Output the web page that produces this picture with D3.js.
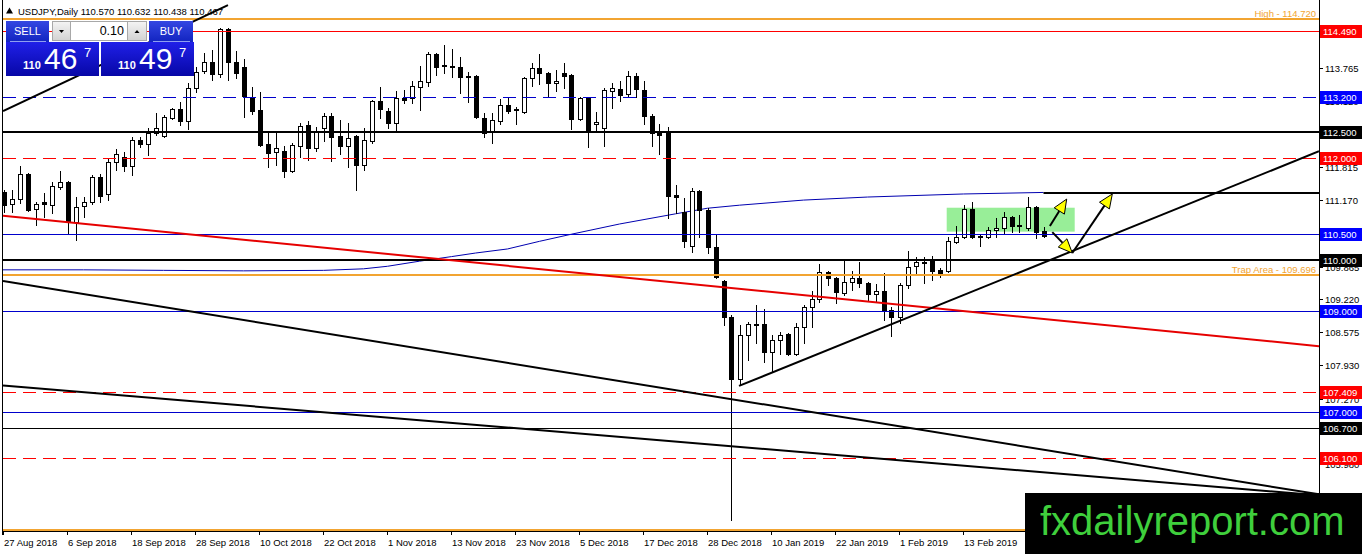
<!DOCTYPE html>
<html>
<head>
<meta charset="utf-8">
<script src="https://cdn.jsdelivr.net/npm/d3@7"></script>
<style>
  html, body { margin: 0; padding: 0; background: #fff; overflow: hidden; }
  svg { display: block; font-family: "Liberation Sans", Arial, sans-serif; }
</style>
</head>
<body>
<svg id="chart" width="1362" height="554"></svg>
<script>
// daily bars, [open, high, low, close]
const candles = [
  [111.33, 111.37, 110.93, 111.07], [111.09, 111.37, 110.93, 111.19], [111.19, 111.84, 111.11, 111.68],
  [111.68, 111.70, 110.95, 110.97], [110.99, 111.13, 110.68, 111.09], [111.13, 111.31, 110.84, 111.09],
  [111.07, 111.52, 110.91, 111.45], [111.43, 111.74, 111.39, 111.52], [111.52, 111.54, 110.52, 110.74],
  [110.74, 111.23, 110.38, 111.03], [111.05, 111.23, 110.84, 111.13], [111.13, 111.66, 111.09, 111.62],
  [111.62, 111.68, 111.13, 111.25], [111.29, 112.00, 111.17, 111.92], [111.92, 112.17, 111.76, 112.07],
  [112.01, 112.11, 111.74, 111.84], [111.84, 112.41, 111.66, 112.35], [112.35, 112.41, 112.21, 112.27],
  [112.27, 112.58, 112.05, 112.49], [112.49, 112.88, 112.45, 112.58], [112.43, 112.84, 112.41, 112.80],
  [112.78, 112.98, 112.76, 112.96], [112.96, 113.10, 112.64, 112.72], [112.72, 113.47, 112.57, 113.37],
  [113.37, 113.78, 113.29, 113.69], [113.70, 114.06, 113.67, 113.88], [113.88, 114.12, 113.53, 113.65],
  [113.65, 114.55, 113.59, 114.53], [114.53, 114.55, 113.53, 113.88], [113.88, 114.10, 113.57, 113.67],
  [113.78, 113.94, 112.80, 113.21], [113.19, 113.39, 112.86, 112.92], [112.94, 113.29, 112.23, 112.25],
  [112.27, 112.51, 111.82, 112.09], [112.11, 112.49, 111.86, 112.19], [112.13, 112.23, 111.62, 111.74],
  [111.74, 112.29, 111.72, 112.25], [112.23, 112.68, 112.01, 112.62], [112.64, 112.72, 111.96, 112.19],
  [112.19, 112.60, 112.13, 112.53], [112.58, 112.88, 112.33, 112.82], [112.82, 112.88, 111.94, 112.41],
  [112.43, 112.74, 112.07, 112.23], [112.23, 112.68, 111.82, 112.39], [112.43, 112.45, 111.37, 111.86],
  [111.86, 112.58, 111.76, 112.35], [112.33, 113.14, 112.29, 113.12], [113.12, 113.39, 112.78, 112.96],
  [112.92, 112.98, 112.58, 112.68], [112.68, 113.31, 112.55, 113.17], [113.17, 113.33, 113.08, 113.13],
  [113.17, 113.51, 113.08, 113.41], [113.39, 113.80, 112.94, 113.51], [113.49, 114.08, 113.41, 114.04],
  [114.04, 114.06, 113.63, 113.78], [113.81, 114.22, 113.67, 113.82], [113.80, 114.14, 113.59, 113.78],
  [113.78, 113.98, 113.27, 113.59], [113.61, 113.69, 113.10, 113.59], [113.61, 113.63, 112.78, 112.80],
  [112.78, 112.88, 112.41, 112.49], [112.51, 112.88, 112.29, 112.74], [112.72, 113.15, 112.66, 113.04],
  [113.04, 113.19, 112.88, 112.92], [112.96, 113.00, 112.66, 112.94], [112.90, 113.59, 112.88, 113.57],
  [113.57, 113.86, 113.41, 113.76], [113.76, 114.04, 113.45, 113.67], [113.67, 113.69, 113.19, 113.47],
  [113.47, 113.72, 113.31, 113.51], [113.67, 113.86, 113.37, 113.61], [113.63, 113.65, 112.57, 112.76],
  [112.76, 113.19, 112.74, 113.17], [113.19, 113.19, 112.21, 112.55], [112.66, 112.90, 112.55, 112.70],
  [112.58, 113.37, 112.23, 113.33], [113.31, 113.47, 112.98, 113.37], [113.35, 113.51, 113.12, 113.23],
  [113.25, 113.70, 113.19, 113.61], [113.61, 113.67, 113.19, 113.35], [113.33, 113.51, 112.66, 112.82],
  [112.82, 112.86, 112.23, 112.49], [112.49, 112.66, 112.07, 112.45], [112.49, 112.60, 110.82, 111.25],
  [111.27, 111.46, 110.91, 111.23], [110.93, 111.21, 110.25, 110.36], [110.27, 111.41, 110.15, 111.35],
  [111.35, 111.37, 110.44, 110.97], [110.97, 111.01, 110.13, 110.25], [110.25, 110.48, 109.64, 109.66],
  [109.58, 109.60, 108.71, 108.87], [108.87, 108.91, 104.88, 107.65], [107.65, 108.71, 107.53, 108.52],
  [108.52, 108.77, 108.03, 108.73], [108.73, 109.11, 108.36, 108.71], [108.73, 109.03, 107.99, 108.18],
  [108.18, 108.52, 107.79, 108.42], [108.42, 108.58, 108.14, 108.52], [108.54, 108.56, 108.12, 108.14],
  [108.14, 108.75, 108.12, 108.67], [108.67, 109.11, 108.36, 109.07], [109.07, 109.38, 108.67, 109.22],
  [109.22, 109.91, 109.16, 109.76], [109.76, 109.77, 109.50, 109.64], [109.64, 109.66, 109.15, 109.36],
  [109.34, 109.97, 109.30, 109.56], [109.56, 109.77, 109.40, 109.64], [109.64, 109.95, 109.46, 109.54],
  [109.54, 109.56, 109.20, 109.32], [109.32, 109.52, 109.16, 109.38], [109.38, 109.74, 108.81, 109.01],
  [109.01, 109.07, 108.50, 108.87], [108.87, 109.54, 108.75, 109.50], [109.50, 110.17, 109.44, 109.85],
  [109.87, 110.05, 109.73, 109.95], [109.94, 110.05, 109.54, 109.96], [109.99, 110.07, 109.60, 109.77],
  [109.79, 109.83, 109.66, 109.73], [109.77, 110.44, 109.75, 110.36], [110.34, 110.66, 110.32, 110.44],
  [110.44, 111.07, 110.42, 110.99], [110.99, 111.13, 110.42, 110.44], [110.46, 110.50, 110.27, 110.44],
  [110.44, 110.64, 110.42, 110.58], [110.58, 110.82, 110.44, 110.62], [110.62, 110.93, 110.52, 110.84],
  [110.84, 110.86, 110.54, 110.66], [110.68, 110.88, 110.54, 110.66], [110.62, 111.23, 110.58, 111.03],
  [111.03, 111.05, 110.42, 110.54], [110.570, 110.632, 110.438, 110.467]
];

// trading calendar of the bars
const firstDay = '2018-08-27';
const lastDay = '2019-02-27';
const holidays = ['2018-12-25', '2019-01-01'];

// moving average, [bar index, price]
const maPoints = [
  [-0.5, 109.80], [10, 109.80], [20, 109.79], [30, 109.78], [40, 109.79], [45, 109.82],
  [48, 109.87], [52, 109.97], [56, 110.06], [59, 110.13], [63, 110.21], [67, 110.36],
  [71, 110.50], [77, 110.70], [84, 110.90], [88, 111.01], [92, 111.07], [100, 111.17],
  [108, 111.23], [120, 111.29], [130, 111.32]
];

// horizontal levels
const levels = [
  { price: 114.720, kind: 'orange', note: 'High - 114.720' },
  { price: 114.490, kind: 'red' },
  { price: 113.200, kind: 'blueDash' },
  { price: 112.500, kind: 'black' },
  { price: 112.000, kind: 'redDash' },
  { price: 111.310, kind: 'black', fromBar: 130, noBox: true },
  { price: 110.500, kind: 'blue' },
  { price: 110.000, kind: 'black' },
  { price: 109.696, kind: 'orange', note: 'Trap Area - 109.696' },
  { price: 109.000, kind: 'blue' },
  { price: 107.409, kind: 'redDash' },
  { price: 107.000, kind: 'blue' },
  { price: 106.700, kind: 'blackThin' },
  { price: 106.100, kind: 'redDash' },
  { price: 104.690, kind: 'orangeLow' }
];

// drawn trend lines, [bar index, price] pairs
const trendLines = [
  { kind: 'black', pts: [[-0.06, 112.92], [28.06, 115.00]] },
  { kind: 'black', pts: [[-0.06, 109.58], [164.44, 105.39]] },
  { kind: 'black', pts: [[-0.06, 107.53], [164.44, 105.37]] },
  { kind: 'red', pts: [[-0.06, 110.86], [164.44, 108.30]] },
  { kind: 'black', pts: [[91.94, 107.52], [164.44, 112.13]] }
];

const arrows = [
  { from: [130.8, 110.66], to: [132.9, 111.19] },
  { from: [131.1, 110.54], to: [133.6, 110.13] },
  { from: [133.6, 110.13], to: [138.6, 111.29] }
];

// consolidation box, bars and prices
const rangeBox = { bars: [117.9, 133.9], prices: [111.02, 110.55] };

const priceTicks = [114.425, 113.765, 113.120, 112.475, 111.815, 111.170, 110.525,
  109.865, 109.220, 108.575, 107.930, 107.270, 106.625, 105.980, 105.335];

const header = 'USDJPY,Daily 110.570 110.632 110.438 110.467';
const sellQuote = ['110', '46', '7'];
const buyQuote = ['110', '49', '7'];
const lotSize = '0.10';
const watermark = 'fxdailyreport.com';

// ---------------------------------------------------------------

const svg = d3.select('#chart');
const plot = { left: 3, right: 1319, top: 0, bottom: 531 };

const x = d3.scaleLinear().domain([0, candles.length - 1]).range([3.5, 1043.5]);
const y = d3.scaleLinear().domain([104.69, 115.10]).range([530, 0]);

const parseDay = d3.timeParse('%Y-%m-%d');
const dayKey = d3.timeFormat('%Y-%m-%d');
const dates = d3.timeDays(parseDay(firstDay), d3.timeDay.offset(parseDay(lastDay), 1))
  .filter((d) => d.getDay() !== 0 && d.getDay() !== 6 && !holidays.includes(dayKey(d)));

const styles = {
  orange: { stroke: '#f2a431', width: 2 },
  orangeLow: { stroke: '#f2a431', width: 3 },
  red: { stroke: '#ff0000', width: 1, box: '#ff0000' },
  redDash: { stroke: '#ff0000', width: 1, dash: '13,7', box: '#ff0000' },
  blue: { stroke: '#0000cc', width: 1, box: '#0000ff' },
  blueDash: { stroke: '#0000cc', width: 1, dash: '13,7', box: '#0000ff' },
  black: { stroke: '#000', width: 2, box: '#000' },
  blackThin: { stroke: '#000', width: 1, box: '#000' }
};

const defs = svg.append('defs');
defs.append('clipPath').attr('id', 'plotClip')
  .append('rect')
  .attr('x', plot.left).attr('y', plot.top)
  .attr('width', plot.right - plot.left).attr('height', plot.bottom - plot.top);

function grad(id, c1, c2) {
  const g = defs.append('linearGradient').attr('id', id)
    .attr('x1', 0).attr('y1', 0).attr('x2', 0).attr('y2', 1);
  g.append('stop').attr('offset', '0%').attr('stop-color', c1);
  g.append('stop').attr('offset', '100%').attr('stop-color', c2);
}
grad('btnBlue', '#3447e2', '#1224c0');
grad('bigBlue', '#2020e8', '#0707a6');
grad('btnGrey', '#f4f4f4', '#d2d2d2');

// header
svg.append('path').attr('d', 'M6,13.5 L9.5,7.5 L13,13.5 Z').attr('fill', '#000');
svg.append('text').attr('x', 18).attr('y', 14.5)
  .style('font-size', '9.5px').attr('fill', '#000').text(header);

const chart = svg.append('g').attr('clip-path', 'url(#plotClip)');

// consolidation box behind the bars
chart.append('rect')
  .attr('x', x(rangeBox.bars[0])).attr('y', y(rangeBox.prices[0]))
  .attr('width', x(rangeBox.bars[1]) - x(rangeBox.bars[0]))
  .attr('height', y(rangeBox.prices[1]) - y(rangeBox.prices[0]))
  .attr('fill', '#98ee98');

const crisp = (v, w) => (w % 2 === 1 ? Math.round(v) + 0.5 : Math.round(v));

// moving average
chart.append('path')
  .datum(maPoints)
  .attr('d', d3.line().x((d) => x(d[0])).y((d) => y(d[1])))
  .attr('fill', 'none').attr('stroke', '#0000b0').attr('stroke-width', 1);

// candles
const bars = chart.append('g').selectAll('g').data(candles).join('g');
bars.each(function (d, i) {
  const g = d3.select(this);
  const cx = Math.round(x(i));
  const [o, h, l, c] = d;
  g.append('line')
    .attr('x1', cx + 0.5).attr('x2', cx + 0.5)
    .attr('y1', Math.round(y(h))).attr('y2', Math.round(y(l)) + 1)
    .attr('stroke', '#000').attr('stroke-width', 1);
  const top = Math.round(y(Math.max(o, c)));
  const bot = Math.round(y(Math.min(o, c)));
  if (c >= o) {
    g.append('rect')
      .attr('x', cx - 1.5).attr('y', top + 0.5)
      .attr('width', 4).attr('height', Math.max(bot - top, 0))
      .attr('fill', '#fff').attr('stroke', '#000').attr('stroke-width', 1);
  } else {
    g.append('rect')
      .attr('x', cx - 2).attr('y', top)
      .attr('width', 5).attr('height', Math.max(bot - top, 1) + 1)
      .attr('fill', '#000');
  }
});

// horizontal levels
levels.forEach((lv) => {
  const st = styles[lv.kind];
  const yy = crisp(y(lv.price), st.width);
  chart.append('line')
    .attr('x1', lv.fromBar !== undefined ? x(lv.fromBar) : plot.left).attr('x2', plot.right)
    .attr('y1', yy).attr('y2', yy)
    .attr('stroke', st.stroke).attr('stroke-width', st.width)
    .attr('stroke-dasharray', st.dash || null);
});

// trend lines
trendLines.forEach((t) => {
  chart.append('line')
    .attr('x1', x(t.pts[0][0])).attr('y1', y(t.pts[0][1]))
    .attr('x2', x(t.pts[1][0])).attr('y2', y(t.pts[1][1]))
    .attr('stroke', t.kind === 'red' ? '#e60000' : '#000')
    .attr('stroke-width', 2);
});

// arrows
arrows.forEach((a) => {
  const x1 = x(a.from[0]), y1 = y(a.from[1]), x2 = x(a.to[0]), y2 = y(a.to[1]);
  const ang = Math.atan2(y2 - y1, x2 - x1);
  const len = 14, half = 6;
  const bx = x2 - len * Math.cos(ang), by = y2 - len * Math.sin(ang);
  chart.append('line')
    .attr('x1', x1).attr('y1', y1).attr('x2', bx).attr('y2', by)
    .attr('stroke', '#000').attr('stroke-width', 2);
  const pts = [
    [x2, y2],
    [bx + half * Math.sin(ang), by - half * Math.cos(ang)],
    [bx - half * Math.sin(ang), by + half * Math.cos(ang)]
  ];
  chart.append('polygon')
    .attr('points', pts.map((p) => p.join(',')).join(' '))
    .attr('fill', '#ffff00').attr('stroke', '#000').attr('stroke-width', 1)
    .attr('stroke-linejoin', 'round');
});

// level notes (orange texts)
levels.filter((lv) => lv.note).forEach((lv) => {
  svg.append('text')
    .attr('x', plot.right - 3).attr('y', y(lv.price) - 2.5)
    .attr('text-anchor', 'end')
    .style('font-size', '9.5px')
    .attr('fill', '#f2a431')
    .text(lv.note);
});

// frame
svg.append('line').attr('x1', plot.left - 0.5).attr('x2', plot.left - 0.5)
  .attr('y1', 0).attr('y2', plot.bottom + 4).attr('stroke', '#000');
svg.append('line').attr('x1', plot.right + 0.5).attr('x2', plot.right + 0.5)
  .attr('y1', 0).attr('y2', plot.bottom + 1).attr('stroke', '#000');
svg.append('line').attr('x1', plot.left).attr('x2', plot.right)
  .attr('y1', plot.bottom + 0.5).attr('y2', plot.bottom + 0.5).attr('stroke', '#000');

// price axis
const priceAxis = svg.append('g');
priceTicks.forEach((p) => {
  const yy = Math.round(y(p)) + 0.5;
  priceAxis.append('line').attr('x1', plot.right).attr('x2', plot.right + 4)
    .attr('y1', yy).attr('y2', yy).attr('stroke', '#000');
  priceAxis.append('text').attr('x', plot.right + 6).attr('y', yy + 3.5)
    .style('font-size', '9.5px').attr('fill', '#000').text(p.toFixed(3));
});
levels.filter((lv) => styles[lv.kind].box && !lv.noBox).forEach((lv) => {
  const yy = Math.round(y(lv.price));
  priceAxis.append('rect')
    .attr('x', plot.right + 1).attr('y', yy - 6)
    .attr('width', 42).attr('height', 13)
    .attr('fill', styles[lv.kind].box);
  priceAxis.append('text').attr('x', plot.right + 4).attr('y', yy + 4)
    .style('font-size', '9.5px').attr('fill', '#fff').text(lv.price.toFixed(3));
});

// time axis
const timeAxis = svg.append('g');
d3.range(0, candles.length, 8).forEach((i) => {
  const xx = Math.round(x(i)) - 0.5;
  timeAxis.append('line').attr('x1', xx).attr('x2', xx)
    .attr('y1', plot.bottom).attr('y2', plot.bottom + 4).attr('stroke', '#000');
  timeAxis.append('text').attr('x', xx + 0.5).attr('y', 546)
    .style('font-size', '9.5px').attr('fill', '#000')
    .text(d3.timeFormat('%-d %b %Y')(dates[i]));
});

// one-click trading panel
const panel = svg.append('g');
panel.append('rect').attr('x', 6).attr('y', 21).attr('width', 43).attr('height', 21).attr('fill', 'url(#btnBlue)');
panel.append('rect').attr('x', 149).attr('y', 21).attr('width', 44).attr('height', 21).attr('fill', 'url(#btnBlue)');
panel.append('line').attr('x1', 10).attr('x2', 46).attr('y1', 41.5).attr('y2', 41.5).attr('stroke', '#8f9ff0');
panel.append('line').attr('x1', 153).attr('x2', 190).attr('y1', 41.5).attr('y2', 41.5).attr('stroke', '#8f9ff0');
panel.append('text').attr('x', 27.5).attr('y', 35).attr('text-anchor', 'middle')
  .style('font-size', '11px').attr('fill', '#fff').text('SELL');
panel.append('text').attr('x', 171).attr('y', 35).attr('text-anchor', 'middle')
  .style('font-size', '11px').attr('fill', '#fff').text('BUY');
panel.append('rect').attr('x', 52.5).attr('y', 21.5).attr('width', 18).attr('height', 19)
  .attr('fill', 'url(#btnGrey)').attr('stroke', '#a8a8a8');
panel.append('rect').attr('x', 70.5).attr('y', 21.5).attr('width', 57).attr('height', 19)
  .attr('fill', '#fff').attr('stroke', '#a8a8a8');
panel.append('rect').attr('x', 127.5).attr('y', 21.5).attr('width', 19).attr('height', 19)
  .attr('fill', 'url(#btnGrey)').attr('stroke', '#a8a8a8');
panel.append('path').attr('d', 'M59,30 L64,30 L61.5,33 Z').attr('fill', '#000');
panel.append('path').attr('d', 'M134.5,33 L139.5,33 L137,30 Z').attr('fill', '#000');
panel.append('text').attr('x', 124).attr('y', 35).attr('text-anchor', 'end')
  .style('font-size', '12.5px').attr('fill', '#000').text(lotSize);

[[6, sellQuote], [101, buyQuote]].forEach(([bx, q]) => {
  panel.append('rect').attr('x', bx).attr('y', 42).attr('width', 93).attr('height', 34)
    .attr('fill', 'url(#bigBlue)');
  panel.append('text').attr('x', bx + 17).attr('y', 68.5)
    .style('font-size', '11px').style('font-weight', 'bold').attr('fill', '#fff').text(q[0]);
  panel.append('text').attr('x', bx + 38).attr('y', 68.5)
    .style('font-size', '30px').attr('fill', '#fff').text(q[1]);
  panel.append('text').attr('x', bx + 78).attr('y', 57)
    .style('font-size', '13px').attr('fill', '#fff').text(q[2]);
});

// watermark
svg.append('rect').attr('x', 1025).attr('y', 493).attr('width', 337).attr('height', 61).attr('fill', '#000');
svg.append('text').attr('x', 1040).attr('y', 535)
  .style('font-size', '40px').attr('fill', '#3fcf3c').text(watermark);
</script>
</body>
</html>
